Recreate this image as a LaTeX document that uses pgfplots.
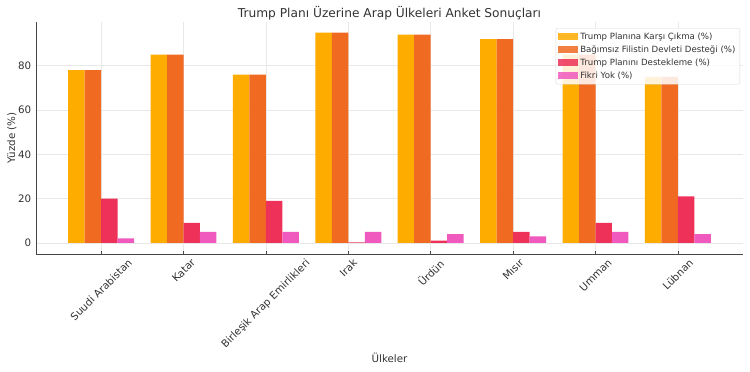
\documentclass[border=0pt]{standalone}
\usepackage{fontspec}
\setmainfont{DejaVu Sans}
\usepackage{graphicx}
\usepackage{pgfplots}
\pgfplotsset{compat=1.18}
\definecolor{cYellow}{RGB}{255,172,0}
\definecolor{cOrange}{RGB}{241,106,34}
\definecolor{cRed}{RGB}{238,49,88}
\definecolor{cPink}{RGB}{240,90,190}
\definecolor{cText}{RGB}{50,50,50}
\definecolor{cGrid}{RGB}{232,232,232}
\definecolor{cSpine}{RGB}{70,70,70}
\begin{document}
\begin{tikzpicture}
\path[use as bounding box] (-36bp,-118bp) rectangle (714bp,254bp);
\begin{axis}[
  at={(0,0)}, anchor=south west,
  scale only axis, width=707bp, height=232bp,
  xmin=-0.79, xmax=7.79, ymin=-5, ymax=99.75,
  axis x line*=bottom, axis y line*=left,
  axis line style={draw=cSpine, line width=0.9bp},
  xtick={0,...,7}, ytick={0,20,40,60,80},
  xticklabels={\rotatebox{45}{Suudi Arabistan},\rotatebox{45}{Katar},\rotatebox{45}{Birleşik Arap Emirlikleri},\rotatebox{45}{Irak},\rotatebox{45}{Ürdün},\rotatebox{45}{Mısır},\rotatebox{45}{Umman},\rotatebox{45}{Lübnan}},
  xticklabel style={anchor=north, inner sep=0pt, yshift=-4bp, font=\fontsize{10.3bp}{12bp}\selectfont, text=cText},
  yticklabel style={anchor=east, inner sep=0pt, xshift=-4.5bp, font=\fontsize{10.3bp}{12bp}\selectfont, text=cText},
  /pgf/number format/assume math mode=true,
  x tick style={draw=cSpine, line width=0.6bp},
  tick align=inside, major tick length=3bp,
  y tick style={draw=none},
  grid=major, major grid style={draw=cGrid, line width=0.6bp},
  title={Trump Planı Üzerine Arap Ülkeleri Anket Sonuçları},
  title style={at={(axis description cs:0.5,1)}, anchor=base, yshift=-1bp, font=\fontsize{12.2bp}{14bp}\selectfont, text=cText},
  xlabel={Ülkeler},
  xlabel style={at={(axis description cs:0.5,0)}, anchor=base, yshift=-108bp, font=\fontsize{10.3bp}{12bp}\selectfont, text=cText},
  ylabel={Yüzde (\%)},
  ylabel style={at={(axis description cs:-0.034,0.5)}, anchor=center, font=\fontsize{10.3bp}{12bp}\selectfont, text=cText},
  legend style={at={(1,1)}, anchor=north east, xshift=-3bp, yshift=-6bp,
    draw=black!15, fill=white, fill opacity=0.85, text opacity=1, rounded corners=2bp,
    font=\fontsize{8.6bp}{10bp}\selectfont, text=cText, row sep=0pt, inner sep=2bp,
    nodes={text height=6.4bp, text depth=1.8bp, inner sep=2.4bp}},
  legend cell align=left,
  legend image code/.code={\fill[#1, sharp corners] (0bp,-3.5bp) rectangle (20bp,3.5bp);},
]
\addplot[ybar, bar width=0.2, bar shift=-0.3, fill=cYellow, draw=none] coordinates {(0,78) (1,85) (2,76) (3,95) (4,94) (5,92) (6,85) (7,75)};
\addlegendentry{Trump Planına Karşı Çıkma (\%)}
\addplot[ybar, bar width=0.2, bar shift=-0.1, fill=cOrange, draw=none] coordinates {(0,78) (1,85) (2,76) (3,95) (4,94) (5,92) (6,85) (7,75)};
\addlegendentry{Bağımsız Filistin Devleti Desteği (\%)}
\addplot[ybar, bar width=0.2, bar shift=0.1, fill=cRed, draw=none] coordinates {(0,20) (1,9) (2,19) (3,0.3) (4,1) (5,5) (6,9) (7,21)};
\addlegendentry{Trump Planını Destekleme (\%)}
\addplot[ybar, bar width=0.2, bar shift=0.3, fill=cPink, draw=none] coordinates {(0,2) (1,5) (2,5) (3,5) (4,4) (5,3) (6,5) (7,4)};
\addlegendentry{Fikri Yok (\%)}
\end{axis}
\end{tikzpicture}
\end{document}
